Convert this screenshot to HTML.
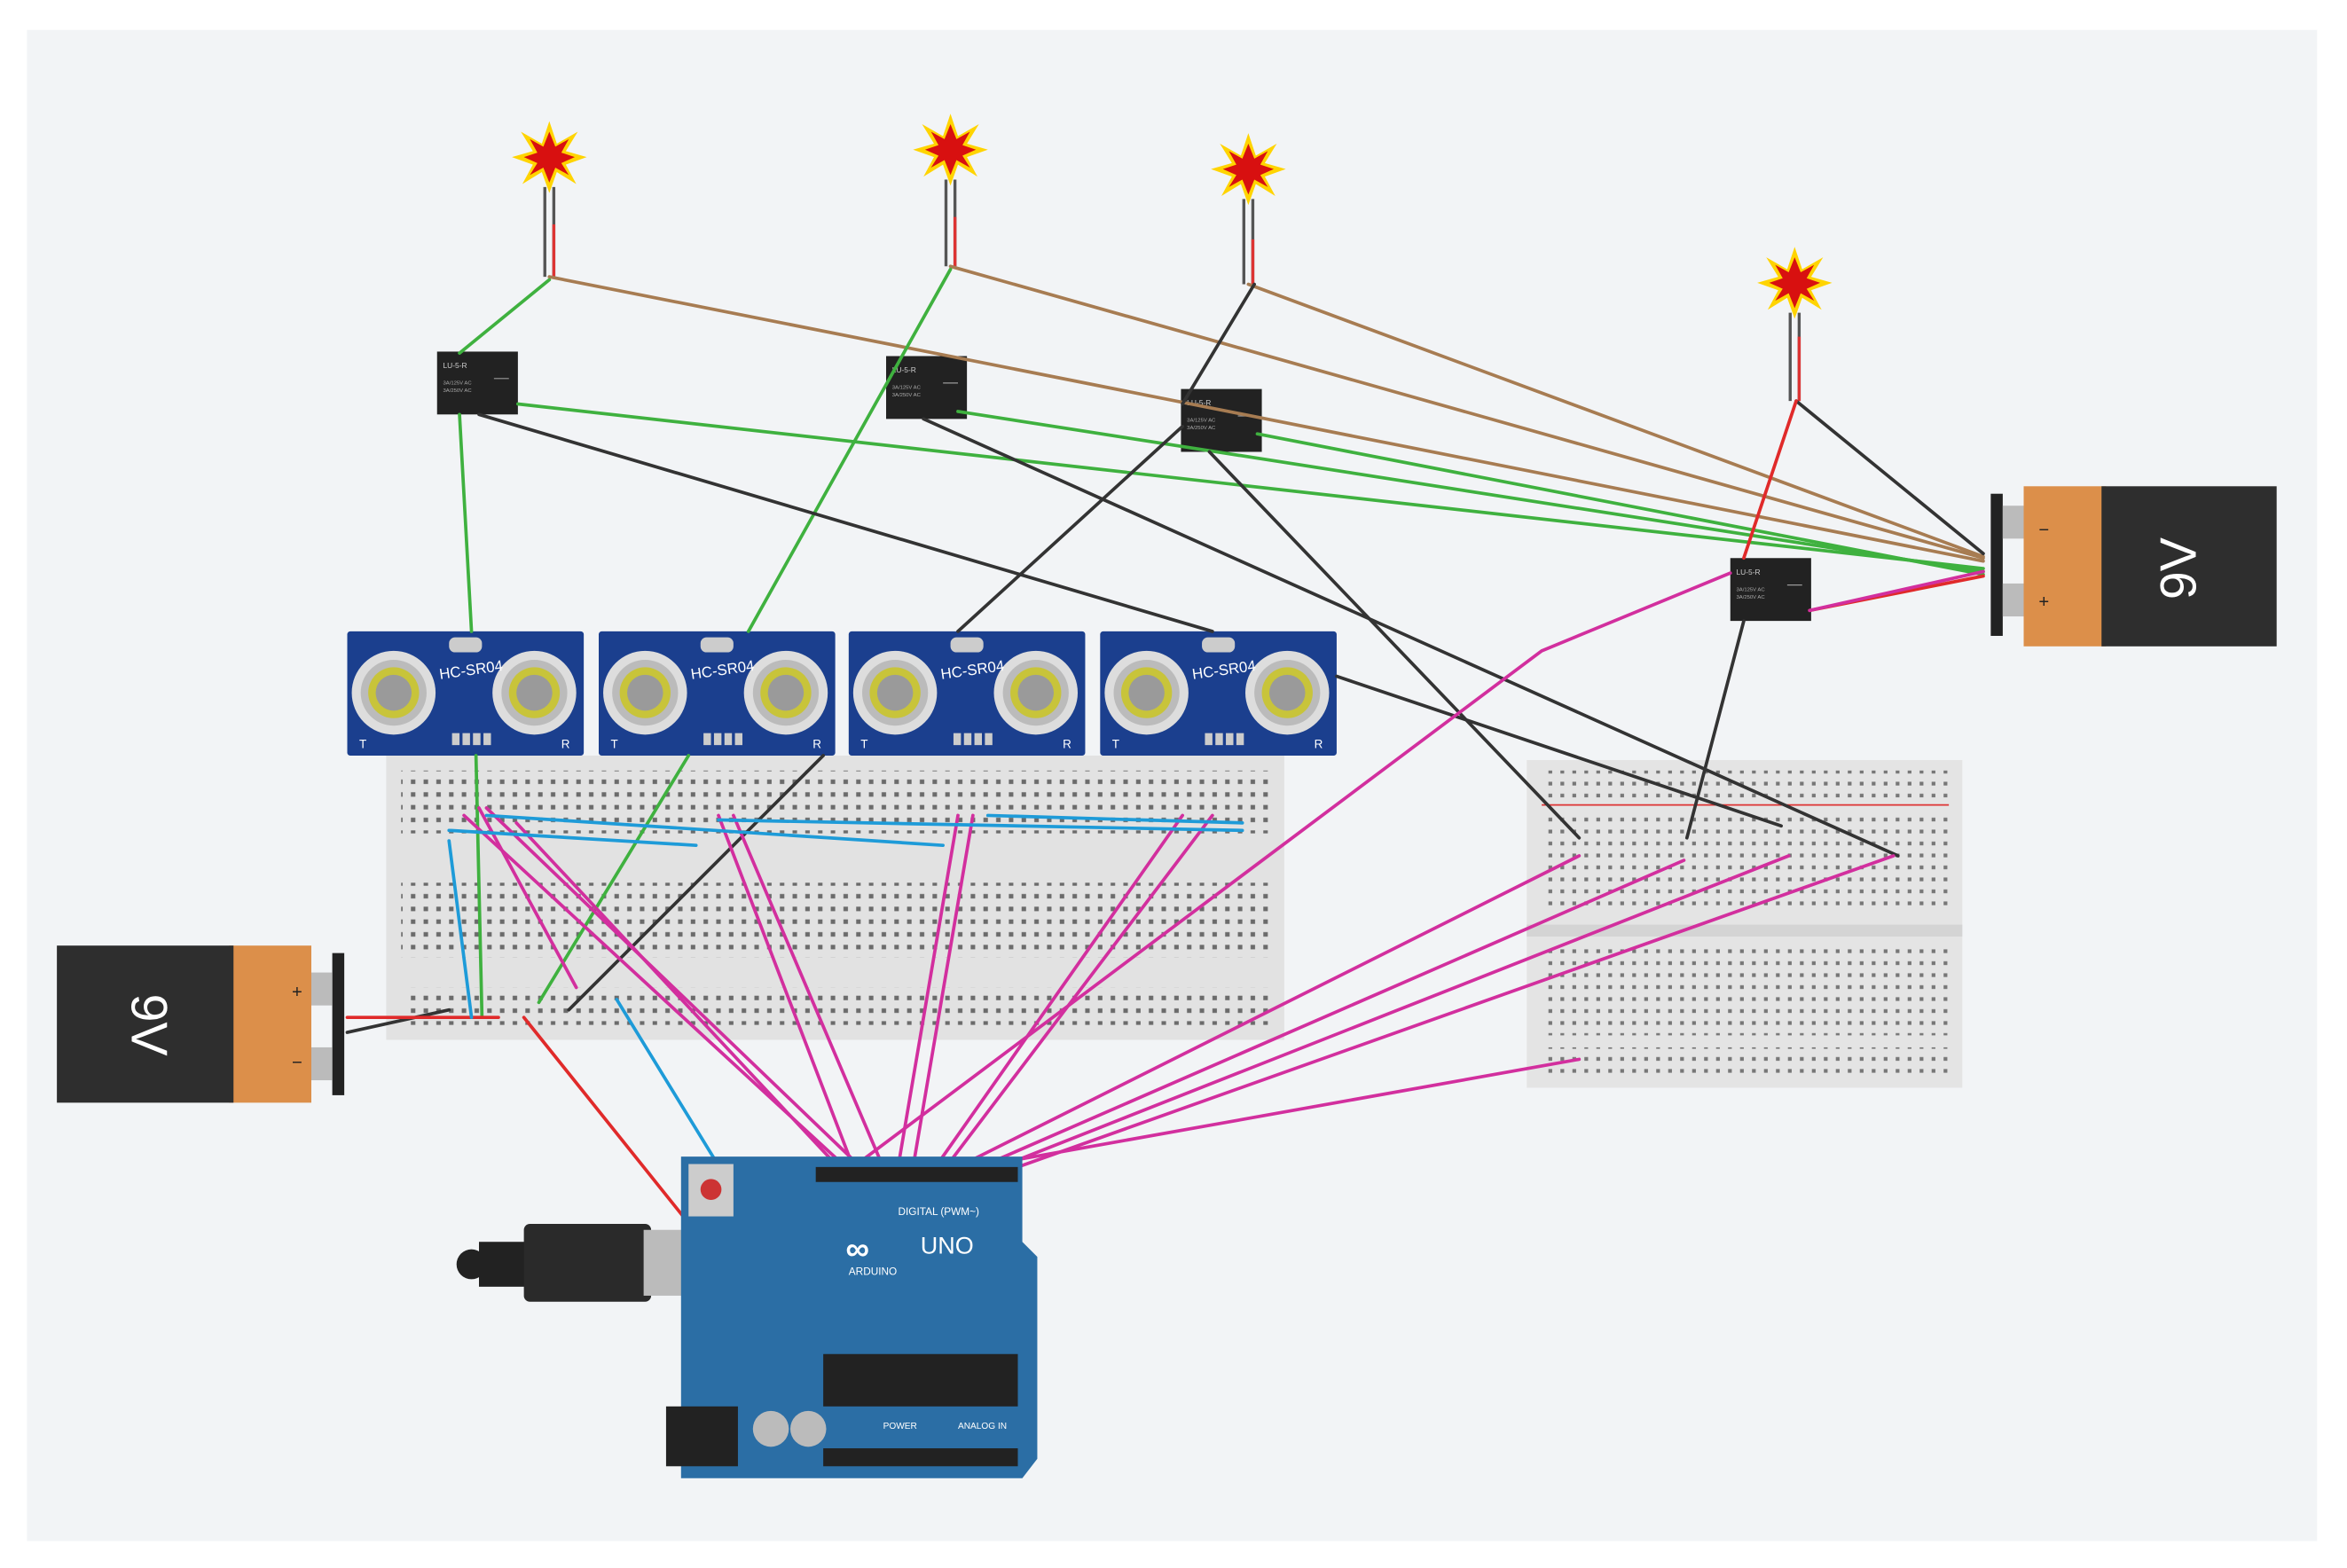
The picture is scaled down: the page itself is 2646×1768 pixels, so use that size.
<!DOCTYPE html>
<html><head><meta charset="utf-8"><style>
html,body{margin:0;padding:0;background:#fff;}
svg{display:block;}
text{font-family:"Liberation Sans",sans-serif;}
</style></head><body>
<svg width="2646" height="1768" viewBox="0 0 1568 1048" preserveAspectRatio="none" xmlns="http://www.w3.org/2000/svg">
<defs>
<pattern id="dots" width="8.5" height="8.5" patternUnits="userSpaceOnUse"><rect x="2.5" y="2.5" width="3" height="3" fill="#6b6b6b"/></pattern>
<pattern id="sdots" width="8" height="8" patternUnits="userSpaceOnUse"><rect x="2.5" y="2.5" width="2.5" height="2.5" fill="#777"/></pattern>
<g id="star"><polygon points="0,-24 5,-9 19,-17 11,-4 25,0 11,5 18,18 5,10 0,24 -5,10 -18,18 -11,5 -25,0 -11,-4 -19,-17 -5,-9" fill="#ffd400"/><polygon points="0,-17 4,-7 13,-12 8,-3 17,0 8,4 13,12 4,7 0,17 -4,7 -13,12 -8,4 -17,0 -8,-3 -13,-12 -4,-7" fill="#d81010"/></g>
<g id="relay"><rect width="54" height="42" fill="#222"/><text x="4" y="11" font-size="5" fill="#ccc">LU-5-R</text><text x="4" y="22" font-size="3.5" fill="#aaa">3A/125V AC</text><text x="4" y="27" font-size="3.5" fill="#aaa">3A/250V AC</text><line x1="38" y1="18" x2="48" y2="18" stroke="#999" stroke-width=".7"/></g>
<g id="sensor"><rect width="158" height="83" fill="#1b3f8e" rx="2"/><rect x="68" y="4" width="22" height="10" rx="4" fill="#ccc"/>
<circle cx="31" cy="41" r="28" fill="#ddd"/><circle cx="31" cy="41" r="22" fill="#bbb"/><circle cx="31" cy="41" r="17" fill="#c8c43a"/><circle cx="31" cy="41" r="12" fill="#9a9a9a"/>
<circle cx="125" cy="41" r="28" fill="#ddd"/><circle cx="125" cy="41" r="22" fill="#bbb"/><circle cx="125" cy="41" r="17" fill="#c8c43a"/><circle cx="125" cy="41" r="12" fill="#9a9a9a"/>
<text x="62" y="32" font-size="10" fill="#fff" transform="rotate(-8 62 32)">HC-SR04</text>
<rect x="70" y="68" width="5" height="8" fill="#ccc"/><rect x="77" y="68" width="5" height="8" fill="#ccc"/><rect x="84" y="68" width="5" height="8" fill="#ccc"/><rect x="91" y="68" width="5" height="8" fill="#ccc"/>
<text x="8" y="78" font-size="8" fill="#fff">T</text><text x="143" y="78" font-size="8" fill="#fff">R</text></g>
</defs>
<rect width="1568" height="1048" fill="#fff"/>
<rect x="18" y="20" width="1530" height="1010" fill="#f2f4f6"/>

<rect x="258" y="505" width="600" height="190" fill="#e2e2e2"/>
<rect x="268" y="515" width="580" height="42" fill="url(#dots)"/>
<rect x="268" y="590" width="580" height="50" fill="url(#dots)"/>
<rect x="270" y="660" width="578" height="25" fill="url(#dots)"/>
<rect x="1020" y="508" width="291" height="219" fill="#e4e4e4"/>
<rect x="1030" y="515" width="272" height="18" fill="url(#sdots)"/>
<line x1="1030" y1="538" x2="1302" y2="538" stroke="#d33" stroke-width="1"/>
<rect x="1030" y="545" width="272" height="65" fill="url(#sdots)"/>
<rect x="1020" y="618" width="291" height="8" fill="#d4d4d4"/>
<rect x="1030" y="632" width="272" height="60" fill="url(#sdots)"/>
<rect x="1030" y="700" width="272" height="20" fill="url(#sdots)"/>

<use href="#sensor" x="232" y="422"/><use href="#sensor" x="400" y="422"/><use href="#sensor" x="567" y="422"/><use href="#sensor" x="735" y="422"/>

<g stroke-width="2" fill="none">
<path d="M364 125 V185 M370 125 V185" stroke="#555"/><path d="M632 120 V178 M638 120 V178" stroke="#555"/><path d="M831 133 V190 M837 133 V190" stroke="#555"/><path d="M1196 209 V268 M1202 209 V268" stroke="#555"/>
<path d="M370 150 V185 M638 145 V178 M837 160 V190 M1202 225 V268" stroke="#d33"/>
</g>
<use href="#star" x="367" y="105"/><use href="#star" x="635" y="100"/><use href="#star" x="834" y="113"/><use href="#star" x="1199" y="189"/>

<use href="#relay" x="292" y="235"/><use href="#relay" x="592" y="238"/><use href="#relay" x="789" y="260"/><use href="#relay" x="1156" y="373"/>

<g stroke-width="2.2" fill="none" stroke-linecap="round">
<g stroke="#a77c52">
<path d="M367 185 L1325 375"/><path d="M635 178 L1325 373"/><path d="M834 190 L1325 372"/></g>
<g stroke="#3fb13f">
<path d="M367 187 L307 236"/><path d="M307 277 L315 422"/><path d="M318 505 L322 680"/><path d="M346 270 L1325 380"/><path d="M640 275 L1325 382"/><path d="M840 290 L1325 384"/><path d="M635 180 L500 422"/><path d="M460 505 L360 670"/></g>
<g stroke="#333">
<path d="M838 190 L790 270"/><path d="M790 285 L640 422"/><path d="M550 505 L380 675"/><path d="M320 277 L810 422"/><path d="M893 452 L1190 552"/><path d="M617 280 L1268 572"/><path d="M808 302 L1055 560"/><path d="M1200 268 L1325 370"/><path d="M1165 415 L1127 560"/><path d="M300 675 L232 690"/></g>
<g stroke="#e02a2a">
<path d="M1200 268 L1165 373"/><path d="M333 680 L232 680"/><path d="M350 680 L590 980"/><path d="M1325 385 L1209 408"/></g>
<g stroke="#d22f9e">
<path d="M1156 383 L1030 435 L570 780"/><path d="M1209 408 L1325 382"/>
<path d="M1055 572 L640 780"/><path d="M1125 575 L655 780"/><path d="M1195 572 L668 780"/><path d="M1265 572 L680 780"/><path d="M1055 708 L680 775"/>
<path d="M310 545 L565 780"/><path d="M325 540 L575 780"/><path d="M345 550 L560 780"/><path d="M320 540 L385 660"/><path d="M480 545 L570 780"/><path d="M490 545 L590 780"/><path d="M640 545 L600 780"/><path d="M650 545 L610 780"/><path d="M790 545 L625 780"/><path d="M810 545 L632 780"/></g>
<g stroke="#1e9bd8">
<path d="M300 555 L465 565"/><path d="M325 545 L630 565"/><path d="M480 548 L830 555"/><path d="M660 545 L830 550"/><path d="M300 562 L315 680"/><path d="M412 668 L600 975"/></g>
</g>

<rect x="1330" y="330" width="8" height="95" fill="#222"/>
<rect x="1338" y="338" width="16" height="22" fill="#bbb"/><rect x="1338" y="390" width="16" height="22" fill="#bbb"/>
<rect x="1352" y="325" width="55" height="107" fill="#dc8f4a"/>
<rect x="1404" y="325" width="117" height="107" fill="#2e2e2e"/>
<text x="1458" y="380" font-size="34" fill="#fff" text-anchor="middle" transform="rotate(-90 1458 380)" dominant-baseline="middle">9V</text>
<text x="1362" y="358" font-size="12" fill="#222">−</text><text x="1362" y="406" font-size="12" fill="#222">+</text>
<rect x="222" y="637" width="8" height="95" fill="#222"/>
<rect x="206" y="650" width="16" height="22" fill="#bbb"/><rect x="206" y="700" width="16" height="22" fill="#bbb"/>
<rect x="153" y="632" width="55" height="105" fill="#dc8f4a"/>
<rect x="38" y="632" width="118" height="105" fill="#2e2e2e"/>
<text x="97" y="685" font-size="34" fill="#fff" text-anchor="middle" transform="rotate(90 97 685)" dominant-baseline="middle">9V</text>
<text x="195" y="667" font-size="12" fill="#222">+</text><text x="195" y="714" font-size="12" fill="#222">−</text>

<rect x="305" y="835" width="20" height="20" rx="10" fill="#222"/>
<rect x="320" y="830" width="40" height="30" fill="#222"/>
<rect x="350" y="818" width="85" height="52" rx="4" fill="#2a2a2a"/>
<rect x="430" y="822" width="60" height="44" fill="#bbb"/>
<path d="M455 773 H683 V830 L693 840 V975 L683 988 H455 Z" fill="#2b6ea5"/>
<rect x="460" y="778" width="30" height="35" fill="#ccc"/><circle cx="475" cy="795" r="7" fill="#c33"/>
<rect x="445" y="940" width="48" height="40" fill="#222"/>
<rect x="545" y="780" width="135" height="10" fill="#222"/>
<rect x="550" y="905" width="130" height="35" fill="#222"/>
<rect x="550" y="968" width="130" height="12" fill="#222"/>
<circle cx="515" cy="955" r="12" fill="#bbb"/><circle cx="540" cy="955" r="12" fill="#bbb"/>
<text x="565" y="842" font-size="22" fill="#fff" font-weight="bold">∞</text>
<text x="615" y="838" font-size="16" fill="#fff">UNO</text>
<text x="567" y="852" font-size="7" fill="#fff">ARDUINO</text>
<text x="600" y="812" font-size="7" fill="#fff">DIGITAL (PWM~)</text>
<text x="590" y="955" font-size="6" fill="#fff">POWER</text><text x="640" y="955" font-size="6" fill="#fff">ANALOG IN</text>
</svg>
</body></html>
